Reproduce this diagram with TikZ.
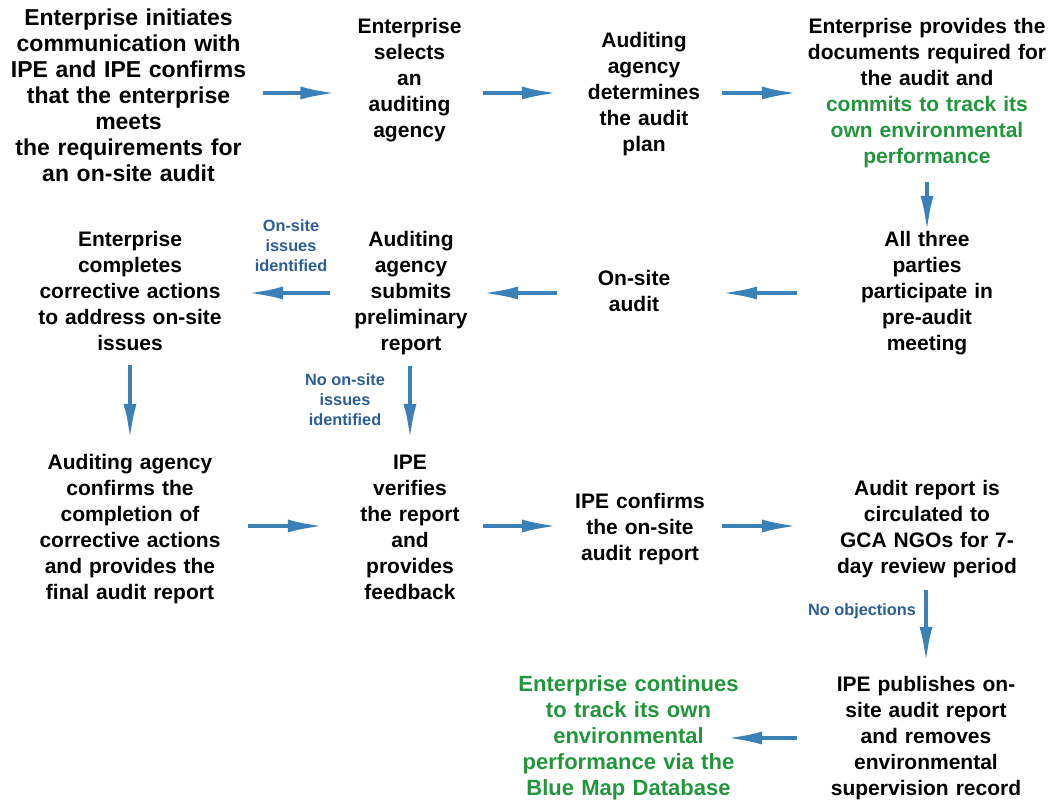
\documentclass[tikz,border=0pt]{standalone}
\usepackage{fontspec}
\setmainfont{Liberation Sans}
\usetikzlibrary{arrows.meta}
\definecolor{arrowblue}{RGB}{59,128,182}
\definecolor{labelblue}{RGB}{44,94,150}
\definecolor{stepgreen}{RGB}{34,150,60}
\begin{document}
\begin{tikzpicture}[x=1pt,y=-1pt,
  box/.style={font=\fontsize{21}{26}\selectfont\bfseries, align=center, inner sep=0pt,
    execute at begin node=\strut, execute at end node=\strut},
  bigbox/.style={box, font=\fontsize{23}{26}\selectfont\bfseries},
  greenbox/.style={box, font=\fontsize{22}{26}\selectfont\bfseries, text=stepgreen},
  lbl/.style={font=\fontsize{16.3}{20}\selectfont\bfseries, text=labelblue, align=center, inner sep=0pt},
  arr/.style={draw=arrowblue, line width=4.5pt, -{Latex[length=38pt,width=13pt]}}]
\useasboundingbox (0,0) rectangle (1053,807);
\coordinate (r1) at (0,93);
\coordinate (r2) at (0,293);
\coordinate (r3) at (0,526);
\coordinate (r4) at (0,738);
% row 1
\node[bigbox, text width=244pt] (n1) at (128.5,98) {Enterprise initiates\\communication with\\IPE and IPE confirms\\that the enterprise\\meets\\the requirements for\\an on-site audit};
\node[box, text width=110pt] (n2) at (409.5,80) {Enterprise\\selects\\an\\auditing\\agency};
\node[box, text width=116pt] (n3) at (644,94) {Auditing\\agency\\determines\\the audit\\plan};
\node[box, text width=244pt] (n4) at (927,93) {Enterprise provides the\\documents required for\\the audit and\\\textcolor{stepgreen}{commits to track its}\\\textcolor{stepgreen}{own environmental}\\\textcolor{stepgreen}{performance}};
% row 2
\node[box, text width=134pt] (n5) at (927,293) {All three\\parties\\participate in\\pre-audit\\meeting};
\node[box, text width=76pt] (n6) at (634,293) {On-site\\audit};
\node[box, text width=116pt] (n7) at (411,293) {Auditing\\agency\\submits\\preliminary\\report};
\node[box, text width=186pt] (n8) at (130,293) {Enterprise\\completes\\corrective actions\\to address on-site\\issues};
% row 3
\node[box, text width=186pt] (n9) at (130,529) {Auditing agency\\confirms the\\completion of\\corrective actions\\and provides the\\final audit report};
\node[box, text width=102pt] (n10) at (410,529) {IPE\\verifies\\the report\\and\\provides\\feedback};
\node[box, text width=132pt] (n11) at (640,529) {IPE confirms\\the on-site\\audit report};
\node[box, text width=190pt] (n12) at (927,529) {Audit report is\\circulated to\\GCA NGOs for 7-\\day review period};
% row 4
\node[box, text width=196pt] (n13) at (926,738) {IPE publishes on-\\site audit report\\and removes\\environmental\\supervision record};
\node[greenbox, text width=226pt] (n14) at (628.5,738) {Enterprise continues\\to track its own\\environmental\\performance via the\\Blue Map Database};
% labels
\node[lbl] (l1) at (291,246) {On-site\\issues\\identified};
\node[lbl] (l2) at (345,400) {No on-site\\issues\\identified};
\node[lbl] (l3) at (862,611) {No objections};
% arrows row 1 (n1 east = 250.5)
\draw[arr, shorten <=12.5pt, shorten >=16pt] (n1.east |- r1) -- (n2.west |- r1);
\draw[arr, shorten <=18.5pt, shorten >=26pt] (n2.east |- r1) -- (n3.west |- r1);
\draw[arr, shorten <=20pt, shorten >=5pt] (n3.east |- r1) -- (n4.west |- r1);
\draw[arr, shorten <=11pt, shorten >=-6pt] (n4.south) -- (n5.north);
% row 2
\draw[arr, shorten <=63pt, shorten >=47pt] (n5.west |- r2) -- (n6.east |- r2);
\draw[arr, shorten <=39pt, shorten >=11pt] (n6.west |- r2) -- (n7.east |- r2);
\draw[arr, shorten <=23pt, shorten >=22pt] (n7.west |- r2) -- (n8.east |- r2);
\draw[arr, shorten <=7pt, shorten >=9pt] (n8.south) -- (n9.north);
\draw[arr, shorten <=8pt, shorten >=9pt] (n10.north |- n7.south) -- (n10.north);
% row 3
\draw[arr, shorten <=25pt, shorten >=33pt] (n9.east |- r3) -- (n10.west |- r3);
\draw[arr, shorten <=22pt, shorten >=14pt] (n10.east |- r3) -- (n11.west |- r3);
\draw[arr, shorten <=16pt, shorten >=32pt] (n11.east |- r3) -- (n12.west |- r3);
\draw[arr, shorten <=9pt, shorten >=8pt] (n13.north |- n12.south) -- (n13.north);
% row 4
\draw[arr, shorten <=31pt, shorten >=-17.5pt] (n13.west |- r4) -- (n14.east |- r4);
\end{tikzpicture}
\end{document}
